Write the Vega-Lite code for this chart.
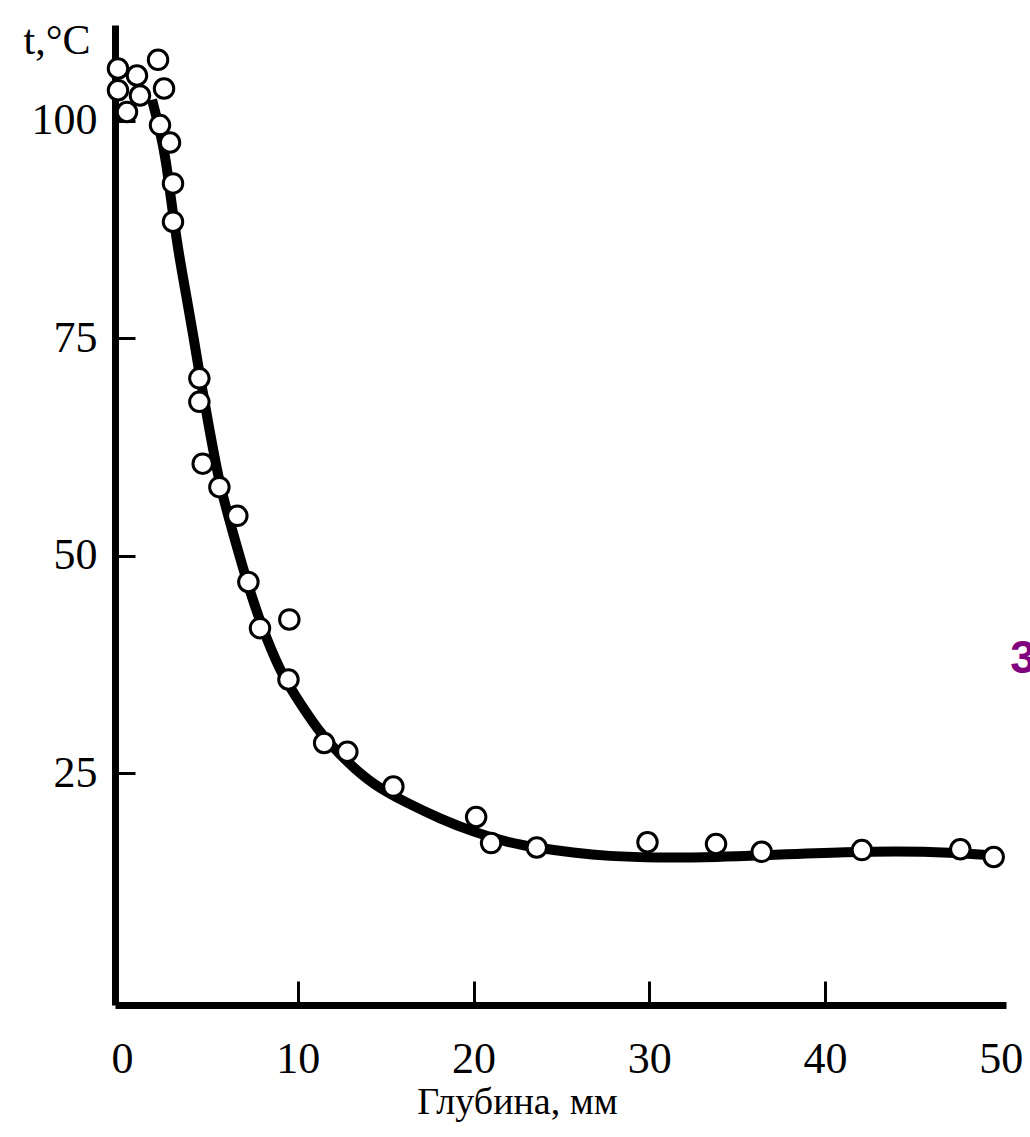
{
  "$schema": "https://vega.github.io/schema/vega-lite/v6.json",
  "width": 891,
  "height": 980,
  "autosize": {"type": "none"},
  "padding": {"left": 115, "top": 25, "right": 24, "bottom": 132},
  "background": "white",
  "config": {"view": {"stroke": null}},
  "datasets": {
    "points": [
      {"depth": -0.23, "temp": 106.0},
      {"depth": -0.23, "temp": 103.5},
      {"depth": 0.28, "temp": 101.0},
      {"depth": 1.02, "temp": 102.9},
      {"depth": 0.85, "temp": 105.2},
      {"depth": 2.05, "temp": 107.0},
      {"depth": 2.39, "temp": 103.7},
      {"depth": 2.16, "temp": 99.5},
      {"depth": 2.73, "temp": 97.5},
      {"depth": 2.9, "temp": 92.8},
      {"depth": 2.9, "temp": 88.4},
      {"depth": 4.4, "temp": 70.4},
      {"depth": 4.4, "temp": 67.7},
      {"depth": 4.59, "temp": 60.6},
      {"depth": 5.54, "temp": 57.9},
      {"depth": 6.56, "temp": 54.6},
      {"depth": 7.19, "temp": 47.0},
      {"depth": 7.85, "temp": 41.7},
      {"depth": 9.52, "temp": 42.7},
      {"depth": 9.47, "temp": 35.8},
      {"depth": 11.5, "temp": 28.5},
      {"depth": 12.82, "temp": 27.5},
      {"depth": 15.44, "temp": 23.5},
      {"depth": 20.15, "temp": 20.0},
      {"depth": 21.0, "temp": 17.0},
      {"depth": 23.6, "temp": 16.5},
      {"depth": 29.9, "temp": 17.1},
      {"depth": 33.8, "temp": 16.9},
      {"depth": 36.4, "temp": 16.0},
      {"depth": 42.1, "temp": 16.2},
      {"depth": 47.7, "temp": 16.3},
      {"depth": 49.6, "temp": 15.4}
    ],
    "curve": [
      {"depth": 1.71, "temp": 102.4},
      {"depth": 2.16, "temp": 98.9},
      {"depth": 2.5, "temp": 95.5},
      {"depth": 2.79, "temp": 90.9},
      {"depth": 3.19, "temp": 85.1},
      {"depth": 3.7, "temp": 79.4},
      {"depth": 4.1, "temp": 74.8},
      {"depth": 4.44, "temp": 70.5},
      {"depth": 5.01, "temp": 64.1},
      {"depth": 5.58, "temp": 57.9},
      {"depth": 6.32, "temp": 52.6},
      {"depth": 7.29, "temp": 45.7},
      {"depth": 8.25, "temp": 40.3},
      {"depth": 9.16, "temp": 36.1},
      {"depth": 10.13, "temp": 33.1},
      {"depth": 11.27, "temp": 29.6},
      {"depth": 12.81, "temp": 26.3},
      {"depth": 14.29, "temp": 23.7},
      {"depth": 16.22, "temp": 21.6},
      {"depth": 18.1, "temp": 19.8},
      {"depth": 19.98, "temp": 18.3},
      {"depth": 21.91, "temp": 17.1},
      {"depth": 23.79, "temp": 16.4},
      {"depth": 25.67, "temp": 15.9},
      {"depth": 27.6, "temp": 15.5},
      {"depth": 30.45, "temp": 15.3},
      {"depth": 34.0, "temp": 15.4},
      {"depth": 36.54, "temp": 15.6},
      {"depth": 41.15, "temp": 16.0},
      {"depth": 45.76, "temp": 16.1},
      {"depth": 49.4, "temp": 15.6}
    ],
    "note": [
      {"depth": 50.54, "temp": 36.6, "text": "3"}
    ]
  },
  "resolve": {"axis": {"x": "independent", "y": "independent"}},
  "layer": [
    {
      "data": {"name": "curve"},
      "mark": {"type": "line", "color": "black", "strokeWidth": 10, "interpolate": "basis"},
      "encoding": {
        "x": {
          "field": "depth", "type": "quantitative",
          "scale": {"domain": [-0.4, 50.3], "nice": false, "zero": false},
          "axis": {
            "orient": "bottom",
            "values": [0, 10, 20, 30, 40, 50],
            "grid": false,
            "domainColor": "black", "domainWidth": 7,
            "ticks": false, "tickSize": 0,
            "labelFont": "Liberation Serif", "labelFontSize": 44, "labelColor": "black",
            "labelPadding": 32, "labelFlush": false,
            "title": "Глубина, мм",
            "titleFont": "Liberation Serif", "titleFontSize": 38, "titleFontWeight": "normal", "titleColor": "black",
            "titleX": 402, "titleY": 97, "titleBaseline": "middle", "titleAlign": "center"
          }
        },
        "y": {
          "field": "temp", "type": "quantitative",
          "scale": {"domain": [-1.6, 111], "nice": false, "zero": false},
          "axis": {
            "orient": "left",
            "values": [25, 50, 75, 100],
            "grid": false,
            "domainColor": "black", "domainWidth": 7,
            "ticks": false, "tickSize": 0,
            "labelFont": "Liberation Serif", "labelFontSize": 44, "labelColor": "black",
            "labelPadding": 18, "labelFlush": false,
            "title": "t,°C",
            "titleFont": "Liberation Serif", "titleFontSize": 42, "titleFontWeight": "normal", "titleColor": "black",
            "titleAngle": 0, "titleX": -25, "titleY": 15, "titleAlign": "right", "titleBaseline": "middle"
          }
        }
      }
    },
    {
      "data": {"name": "points"},
      "mark": {"type": "point", "shape": "circle", "filled": true, "fill": "white", "stroke": "black", "strokeWidth": 3, "size": 380, "opacity": 1},
      "encoding": {
        "x": {
          "field": "depth", "type": "quantitative",
          "axis": {
            "orient": "bottom", "offset": -24,
            "values": [10, 20, 30, 40],
            "domain": false, "labels": false, "grid": false, "title": null,
            "ticks": true, "tickSize": 24, "tickWidth": 3, "tickColor": "black"
          }
        },
        "y": {
          "field": "temp", "type": "quantitative",
          "axis": {
            "orient": "left", "offset": -20,
            "values": [25, 50, 75, 100],
            "domain": false, "labels": false, "grid": false, "title": null,
            "ticks": true, "tickSize": 20, "tickWidth": 3, "tickColor": "black"
          }
        }
      }
    },
    {
      "data": {"name": "note"},
      "mark": {"type": "text", "color": "#800080", "font": "Liberation Sans", "fontWeight": "bold", "fontSize": 46, "align": "left", "baseline": "alphabetic"},
      "encoding": {
        "x": {"field": "depth", "type": "quantitative", "axis": null},
        "y": {"field": "temp", "type": "quantitative", "axis": null},
        "text": {"field": "text"}
      }
    }
  ]
}
